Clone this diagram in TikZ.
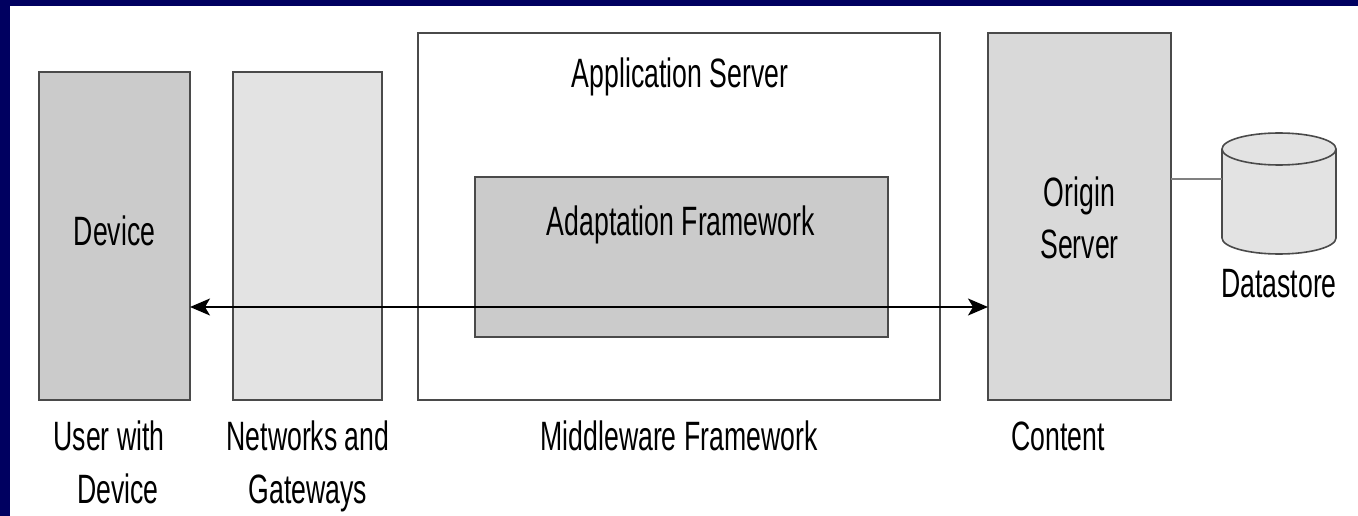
\documentclass[tikz,border=0pt]{standalone}
\usepackage{fontspec}
\setmainfont[FakeStretch=0.65]{Liberation Sans}
\usetikzlibrary{arrows.meta}
\definecolor{navy}{HTML}{000060}
\definecolor{edge}{HTML}{4A4A4A}
\definecolor{fdark}{HTML}{CBCBCB}
\definecolor{fmid}{HTML}{D9D9D9}
\definecolor{flight}{HTML}{E3E3E3}
\tikzset{
  box/.style={draw=edge, line width=2pt, inner sep=0pt, outer sep=0pt, minimum width=#1},
  lbl/.style={inner sep=0pt, anchor=base, align=center, font=\fontsize{41}{53}\selectfont},
  link/.style={draw=black, line width=2pt},
}
\begin{document}
\begin{tikzpicture}[x=1pt,y=-1pt]
\useasboundingbox (0,0) rectangle (1358,516);
\fill[white] (0,0) rectangle (1358,516);
\fill[navy] (0,0) rectangle (1358,6);
\fill[navy] (0,0) rectangle (10,516);

% boxes
\node[box=151pt, minimum height=328pt, fill=fdark] (dev) at (114.5,236) {};
\node[box=149pt, minimum height=328pt, fill=flight] (net) at (307.5,236) {};
\node[box=522pt, minimum height=367pt, fill=white] (app) at (679,216.5) {};
\node[box=413pt, minimum height=160pt, fill=fdark] (ada) at (681.5,257) {};
\node[box=183pt, minimum height=367pt, fill=fmid] (os) at (1079.5,216.5) {};
\coordinate (ay) at (0,307);
\coordinate (ly) at (0,179);

% datastore cylinder
\node[inner sep=0pt, minimum width=114pt, minimum height=121pt] (ds) at (1279,193.5) {};
\fill[flight] (1222,149) -- (1222,238) arc[start angle=180, end angle=360, x radius=57pt, y radius=16pt] -- (1336,149) arc[start angle=0, end angle=180, x radius=57pt, y radius=16pt] -- cycle;
\draw[edge, line width=1.6pt] (1222,149) -- (1222,238) arc[start angle=180, end angle=360, x radius=57pt, y radius=16pt] -- (1336,149);
\draw[edge, line width=1.6pt] (1279,149) ellipse[x radius=57pt, y radius=16pt];

% connectors
\draw[draw=gray, line width=2pt] (os.east |- ly) -- (ds.west |- ly);
\draw[link, {Stealth[length=20pt,width=17pt,inset=5pt]}-{Stealth[length=20pt,width=17pt,inset=5pt]}] (dev.east |- ay) -- (os.west |- ay);

% texts
\node[lbl] (tdev) at (114.5,245) {Device};
\node[lbl] (tapp) at (680,88) {Application Server};
\node[lbl] (tada) at (681,235) {Adaptation Framework};
\node[lbl] (tori) at (1079.5,207) {Origin};
\node[lbl] (tser) at (1079.5,258) {Server};
\node[lbl] (tds) at (1279,297) {Datastore};
\node[lbl] (l1a) at (109,450) {User with};
\node[lbl] (l1b) at (118,503) {Device};
\node[lbl] (l2a) at (308,450) {Networks and};
\node[lbl] (l2b) at (308,503) {Gateways};
\node[lbl] (l3) at (679,450) {Middleware Framework};
\node[lbl] (l4) at (1058,450) {Content};
\end{tikzpicture}
\end{document}
